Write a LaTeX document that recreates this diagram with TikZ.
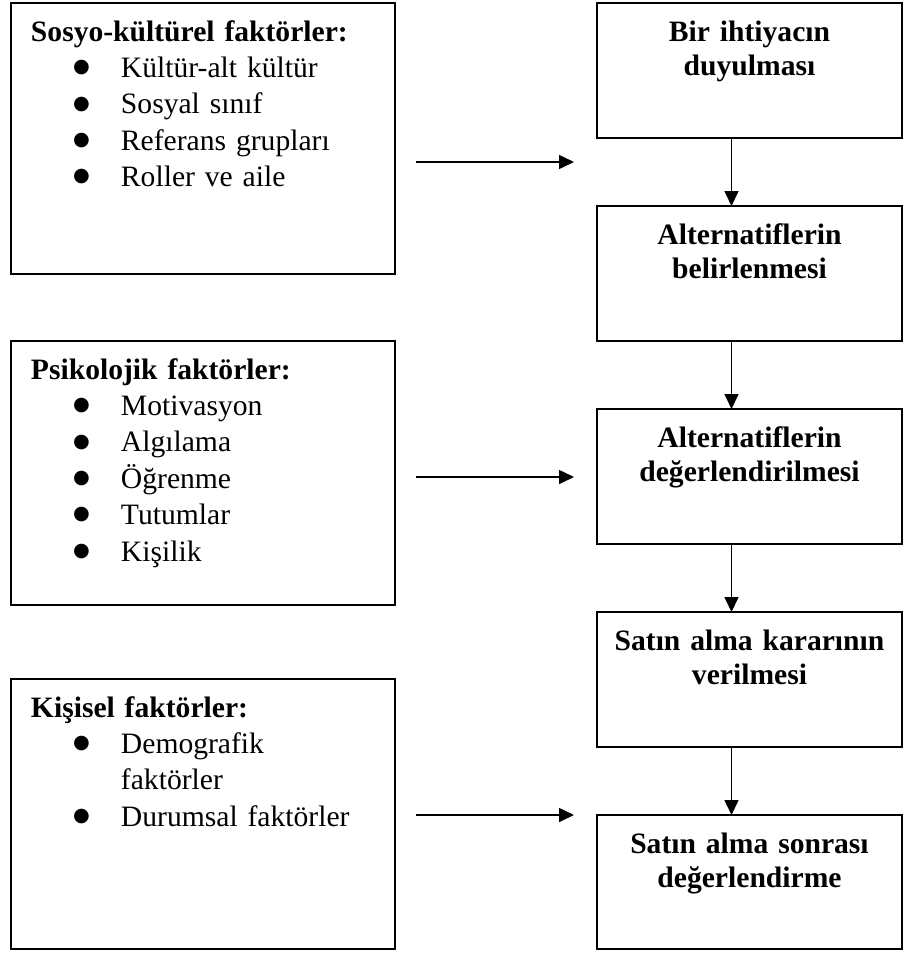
\documentclass[tikz,border=0pt]{standalone}
\usepackage{fontspec}
\setmainfont{Liberation Serif}
\newfontfamily\bulletfont{DejaVu Sans}
\usepackage{tikz}
\usetikzlibrary{arrows.meta, positioning}

\newcommand{\bitem}[1]{\makebox[45pt][l]{\hspace{25.25pt}\makebox[0pt][c]{\raisebox{2.4pt}{\bulletfont\fontsize{9.6pt}{0pt}\selectfont ●}}}#1}

\begin{document}
\begin{tikzpicture}[
    x=0.5pt, y=-0.5pt,
    factor/.style={rectangle, draw, line width=1pt, outer sep=0pt, inner xsep=10pt, inner ysep=0pt, text width=172pt, align=left, text height=19pt, text depth=116.5pt, font=\fontsize{14.8pt}{18.2pt}\selectfont},
    stage/.style={rectangle, draw, line width=1pt, outer sep=0pt, inner xsep=4pt, inner ysep=0pt, text width=144.5pt, align=center, text height=19pt, text depth=48.5pt, font=\bfseries\fontsize{14.8pt}{17.4pt}\selectfont},
    arrow/.style={-{Triangle[length=7.5pt, width=7pt]}, line width=0.8pt}
]
\useasboundingbox (0,0) rectangle (904,954);
\node[factor] (social) at (203,138.5) {\textbf{Sosyo-kültürel faktörler:}\\\bitem{Kültür-alt kültür}\\\bitem{Sosyal sınıf}\\\bitem{Referans grupları}\\\bitem{Roller ve aile}};
\node[factor, text depth=113pt, below=33.5pt of social] (psych) {\textbf{Psikolojik faktörler:}\\\bitem{Motivasyon}\\\bitem{Algılama}\\\bitem{Öğrenme}\\\bitem{Tutumlar}\\\bitem{Kişilik}};
\node[factor, text depth=116pt, below=37pt of psych] (personal) {\textbf{Kişisel faktörler:}\\\bitem{Demografik}\\\hspace*{45pt}faktörler\\\bitem{Durumsal faktörler}};
\node[stage] (need) at (749.5,70.5) {Bir ihtiyacın\\duyulması};
\node[stage, below=34pt of need] (search) {Alternatiflerin\\belirlenmesi};
\node[stage, below=34pt of search] (evaluate) {Alternatiflerin\\değerlendirilmesi};
\node[stage, below=34pt of evaluate] (decide) {Satın alma kararının\\verilmesi};
\node[stage, text depth=48pt, below=34pt of decide] (post) {Satın alma sonrası\\değerlendirme};
\draw[arrow] ([xshift=-9pt]need.south) -- ([xshift=-9pt]search.north);
\draw[arrow] ([xshift=-9pt]search.south) -- ([xshift=-9pt]evaluate.north);
\draw[arrow] ([xshift=-9pt]evaluate.south) -- ([xshift=-9pt]decide.north);
\draw[arrow] ([xshift=-9pt]decide.south) -- ([xshift=-9pt]post.north);
\draw[arrow] ([xshift=10.5pt, yshift=-11.75pt]social.east) -- ([xshift=-11.5pt, yshift=-11.75pt]social.east -| need.west);
\draw[arrow] ([xshift=10.5pt, yshift=-2pt]psych.east) -- ([xshift=-11.5pt, yshift=-2pt]psych.east -| evaluate.west);
\draw[arrow] ([xshift=10.5pt, yshift=-0.5pt]personal.east) -- ([xshift=-11.5pt, yshift=-0.5pt]personal.east -| post.west);
\end{tikzpicture}
\end{document}
